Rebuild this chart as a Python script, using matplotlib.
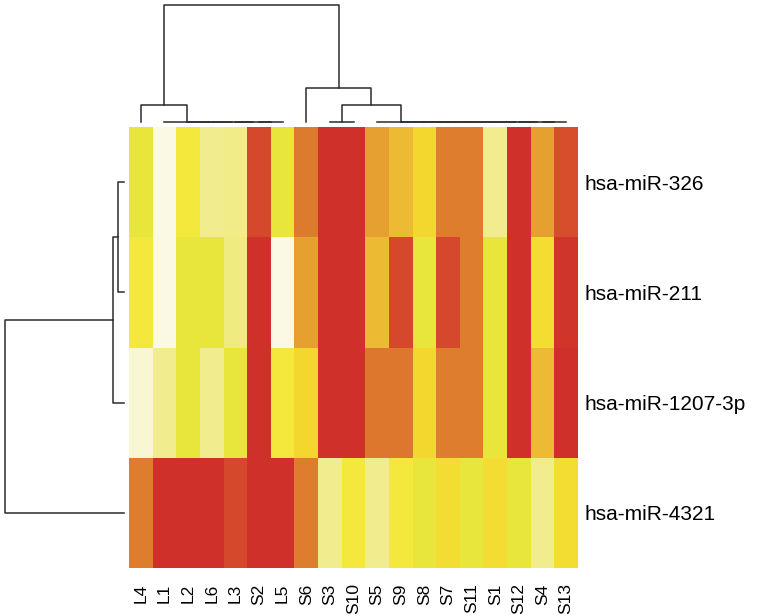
import numpy as np
import matplotlib
matplotlib.use("Agg")
import matplotlib.pyplot as plt
from matplotlib.colors import LinearSegmentedColormap

plt.rcParams["font.family"] = ["Liberation Sans", "DejaVu Sans"]

# column / row order as shown (after clustering)
col_labels = ["L4", "L1", "L2", "L6", "L3", "S2", "L5", "S6", "S3", "S10",
              "S5", "S9", "S8", "S7", "S11", "S1", "S12", "S4", "S13"]
row_labels = ["hsa-miR-326", "hsa-miR-211", "hsa-miR-1207-3p", "hsa-miR-4321"]

# scaled expression, 0 = red (high) ... 1 = cream (low)
mir326 = [0.72, 1.00, 0.66, 0.85, 0.84, 0.10, 0.72, 0.26, 0.00, 0.00,
          0.40, 0.48, 0.60, 0.27, 0.27, 0.85, 0.00, 0.40, 0.12]
mir211 = [0.66, 1.00, 0.72, 0.72, 0.83, 0.00, 1.00, 0.40, 0.00, 0.00,
          0.48, 0.10, 0.72, 0.10, 0.27, 0.72, 0.00, 0.62, 0.02]
mir1207 = [0.97, 0.85, 0.72, 0.85, 0.72, 0.00, 0.66, 0.60, 0.00, 0.00,
           0.25, 0.25, 0.60, 0.27, 0.27, 0.72, 0.00, 0.48, 0.00]
mir4321 = [0.27, 0.00, 0.00, 0.00, 0.10, 0.00, 0.00, 0.27, 0.85, 0.66,
           0.85, 0.66, 0.72, 0.62, 0.72, 0.62, 0.72, 0.85, 0.62]

# dendrogram merge heights (fraction of tallest merge)
col_low_merge = 0.145
col_mid_merge = 0.29
row_pair_merge = 0.048
row_trio_merge = 0.09


def chain(names):
    # right-nested zero-height chain of leaves
    node = names[-1]
    for nm in reversed(names[:-1]):
        node = (nm, node, 0.0)
    return node


col_tree = (("L4", chain(["L1", "L2", "L6", "L3", "S2", "L5"]), col_low_merge),
            ("S6", (chain(["S3", "S10"]),
                    chain(["S5", "S9", "S8", "S7", "S11", "S1", "S12", "S4", "S13"]),
                    col_low_merge), col_mid_merge),
            1.0)
row_tree = ((("hsa-miR-326", "hsa-miR-211", row_pair_merge), "hsa-miR-1207-3p", row_trio_merge),
            "hsa-miR-4321", 1.0)

cmap = LinearSegmentedColormap.from_list("heat", [
    (0.00, "#cf3029"), (0.10, "#d5482b"), (0.26, "#dc7a2d"), (0.40, "#e5a030"),
    (0.48, "#ecbb33"), (0.60, "#f3d72f"), (0.66, "#f4e83c"), (0.72, "#e8e63a"),
    (0.85, "#f1ec8c"), (1.00, "#fbf9e3")])


def draw_tree(ax, node, order, vertical):
    if isinstance(node, str):
        return order.index(node) + 0.5, 0.0
    left, right, h = node
    lx, lh = draw_tree(ax, left, order, vertical)
    rx, rh = draw_tree(ax, right, order, vertical)
    pts = [(lx, lh), (lx, h), (rx, h), (rx, rh)]
    # drop zero-length legs (flat merges)
    pts = [p for i, p in enumerate(pts) if i == 0 or p != pts[i - 1]]
    xs = [p[0] for p in pts]
    hs = [p[1] for p in pts]
    if not vertical:
        xs, hs = hs, xs
    ax.plot(xs, hs, color="#2b2b2b", lw=1.1, clip_on=False)
    return (lx + rx) / 2.0, h


W, H = 768, 616
fig = plt.figure(figsize=(W / 100, H / 100), dpi=100)

hm_l, hm_r, hm_t, hm_b = 129, 578, 127, 568
ax = fig.add_axes([hm_l / W, 1 - hm_b / H, (hm_r - hm_l) / W, (hm_b - hm_t) / H])
data = np.array([mir326, mir211, mir1207, mir4321])
ax.pcolormesh(np.arange(len(col_labels) + 1), np.arange(len(row_labels) + 1), data,
              cmap=cmap, vmin=0, vmax=1)
ax.set_xlim(0, len(col_labels))
ax.set_ylim(len(row_labels), 0)
ax.set_xticks(np.arange(len(col_labels)) + 0.5)
ax.set_xticklabels(col_labels, rotation=90, fontsize=12.5, va="top")
ax.set_yticks(np.arange(len(row_labels)) + 0.5)
ax.set_yticklabels(row_labels, fontsize=15)
ax.yaxis.tick_right()
ax.tick_params(length=0, pad=5)
ax.tick_params(axis="x", pad=11)
for s in ax.spines.values():
    s.set_visible(False)

# column dendrogram (axes padded so lines at height 0 are not on the edge)
top_b, top_t = 130, 5
axc = fig.add_axes([hm_l / W, 1 - top_b / H, (hm_r - hm_l) / W, (top_b - top_t) / H])
axc.set_xlim(0, len(col_labels))
axc.set_ylim(-8 / 117, 1)
draw_tree(axc, col_tree, col_labels, True)
axc.axis("off")

# row dendrogram
rd_l, rd_r = 5, 124
axr = fig.add_axes([rd_l / W, 1 - hm_b / H, (rd_r - rd_l) / W, (hm_b - hm_t) / H])
axr.set_xlim(1, 0)
axr.set_ylim(len(row_labels), 0)
draw_tree(axr, row_tree, row_labels, False)
axr.axis("off")

fig.savefig("out.png", dpi=100)
